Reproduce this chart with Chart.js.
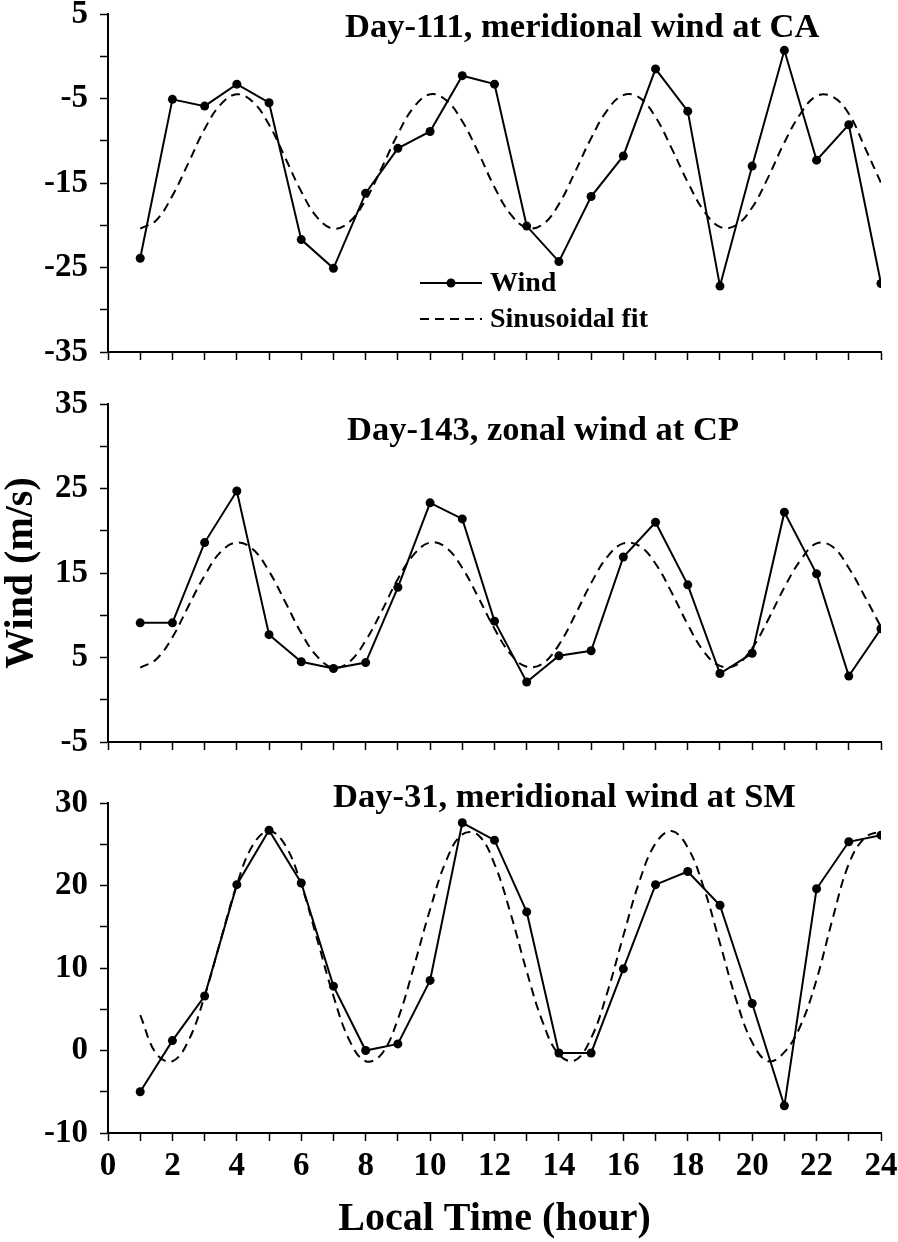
<!DOCTYPE html>
<html>
<head>
<meta charset="utf-8">
<script src="https://cdn.jsdelivr.net/npm/chart.js@4.4.1/dist/chart.umd.min.js"></script>
<style>
body { margin: 0; background: #fff; }
#wrap { position: relative; width: 898px; height: 1242px; overflow: hidden; background: #fff; }
.pane { position: absolute; left: 0; width: 898px; }
</style>
</head>
<body>
<div id="wrap">
  <div class="pane" style="top:-10px;height:400px"><canvas id="c1"></canvas></div>
  <div class="pane" style="top:380px;height:400px"><canvas id="c2"></canvas></div>
  <div class="pane" style="top:779px;height:463px"><canvas id="c3"></canvas></div>
</div>
<script>
// hours of the observations
const hours = [1,2,3,4,5,6,7,8,9,10,11,12,13,14,15,16,17,18,19,20,21,22,23,24]
// sampling of the fitted curve (half hour)
const fitHours = [1,1.5,2,2.5,3,3.5,4,4.5,5,5.5,6,6.5,7,7.5,8,8.5,9,9.5,10,10.5,11,11.5,12,12.5,
  13,13.5,14,14.5,15,15.5,16,16.5,17,17.5,18,18.5,19,19.5,20,20.5,21,21.5,22,22.5,23,23.5,24]

// Day-111, meridional wind at CA
const wind111 = [-23.9,-5.1,-5.9,-3.3,-5.5,-21.7,-25.1,-16.2,-10.9,-8.9,-2.3,-3.3,-20.1,-24.3,-16.6,-11.8,-1.5,-6.5,-27.2,-13.0,0.7,-12.3,-8.1,-26.9]
const fit111 = [-20.4,-19.4,-16.5,-12.6,-8.6,-5.7,-4.5,-5.4,-8.1,-12.0,-16.0,-19.1,-20.4,-19.6,-17.0,-13.2,-9.2,-6.0,-4.5,-5.2,-7.7,-11.4,-15.5,-18.7,
  -20.3,-19.9,-17.5,-13.7,-9.7,-6.4,-4.6,-4.9,-7.2,-10.9,-14.9,-18.3,-20.2,-20.0,-17.9,-14.3,-10.2,-6.8,-4.7,-4.8,-6.8,-10.8,-15.0]

// Day-143, zonal wind at CP
const wind143 = [9.1,9.1,18.6,24.7,7.7,4.5,3.7,4.4,13.3,23.3,21.4,9.3,2.1,5.2,5.8,16.9,21.0,13.6,3.1,5.5,22.2,14.9,2.8,8.4]
const fit143 = [3.8,4.8,7.4,11.1,14.7,17.5,18.6,17.8,15.2,11.6,7.9,5.1,3.8,4.5,7.0,10.5,14.3,17.2,18.6,18.0,15.6,12.1,8.4,5.4,
  3.9,4.3,6.5,10.0,13.8,16.9,18.5,18.2,16.1,12.7,8.9,5.7,4.0,4.1,6.1,9.5,13.3,16.5,18.5,18.1,15.6,12.2,8.6]

// Day-31, meridional wind at SM
const wind31 = [-5.0,1.2,6.6,20.1,26.7,20.3,7.8,0.0,0.8,8.5,27.6,25.5,16.8,-0.3,-0.3,9.9,20.1,21.7,17.6,5.7,-6.7,19.6,25.3,26.1]
const fit31 = [4.3,-0.4,-1.3,1.2,6.6,13.4,20.1,24.9,26.6,24.9,20.1,13.4,6.6,1.2,-1.3,-0.4,3.8,10.2,17.1,23.0,26.2,26.1,22.6,16.6,
  9.6,3.4,-0.5,-1.2,1.5,7.0,13.9,20.5,25.1,26.6,24.6,19.7,13.0,6.2,1.0,-1.3,-0.2,3.0,8.6,16.0,22.6,25.8,26.6]

const serif = '"Liberation Serif", "Times New Roman", serif'
Chart.defaults.font.family = serif
Chart.defaults.font.weight = 'bold'
Chart.defaults.color = '#000'
Chart.defaults.animation = false

// panel title + in-plot legend
const decor = {
  id: 'decor',
  afterDraw(chart, args, o) {
    const ctx = chart.ctx
    ctx.save()
    ctx.fillStyle = '#000'
    ctx.strokeStyle = '#000'
    ctx.font = 'bold 34.5px ' + serif
    ctx.textAlign = 'left'
    ctx.textBaseline = 'alphabetic'
    ctx.fillText(o.title, o.tx, o.ty)
    if (o.legend) {
      chart.data.datasets.forEach((ds, i) => {
        const y = o.ly + i * 36
        ctx.lineWidth = 2
        ctx.setLineDash(ds.borderDash || [])
        ctx.beginPath()
        ctx.moveTo(o.lx, y)
        ctx.lineTo(o.lx + 62, y)
        ctx.stroke()
        ctx.setLineDash([])
        if (ds.pointRadius > 0) {
          ctx.beginPath()
          ctx.arc(o.lx + 31, y, ds.pointRadius, 0, Math.PI * 2)
          ctx.fill()
        }
        ctx.font = 'bold 28px ' + serif
        ctx.textBaseline = 'middle'
        ctx.fillText(ds.label, o.lx + 70, y + 1)
      })
    }
    ctx.restore()
  }
}

function pts(xs, ys) {
  return xs.map((x, i) => ({ x: x, y: ys[i] }))
}

function makePanel(id, wind, fit, ymin, ymax, labelEvery, opts) {
  return new Chart(document.getElementById(id), {
    type: 'line',
    data: {
      datasets: [{
        label: 'Wind',
        data: pts(hours, wind),
        borderColor: '#000',
        backgroundColor: '#000',
        borderWidth: 2,
        pointRadius: 4.5,
        pointBorderWidth: 0,
        tension: 0
      }, {
        label: 'Sinusoidal fit',
        data: pts(fitHours, fit),
        borderColor: '#000',
        borderWidth: 2,
        borderDash: [9, 6],
        pointRadius: 0,
        tension: 0.4
      }]
    },
    options: {
      responsive: true,
      maintainAspectRatio: false,
      layout: { padding: { top: 24, right: 17, left: 0, bottom: 0 } },
      plugins: {
        legend: { display: false },
        tooltip: { enabled: false },
        decor: opts
      },
      scales: {
        x: {
          type: 'linear',
          min: 0,
          max: 24,
          afterFit: s => {
            s.height = opts.xh
            s.paddingLeft = 0
            s.paddingRight = 0
          },
          ticks: {
            stepSize: 1,
            autoSkip: false,
            maxRotation: 0,
            padding: 9,
            font: { size: 33, lineHeight: 1 },
            callback: v => (opts.xlabels && v % 2 === 0) ? v : ''
          },
          grid: { drawOnChartArea: false, tickLength: 8, tickColor: '#000', tickWidth: 1.5 },
          border: { color: '#000', width: 2 },
          title: {
            display: !!opts.xtitle,
            text: opts.xtitle || '',
            font: { size: 40, lineHeight: 1 },
            padding: { top: 0, bottom: 2 }
          }
        },
        y: {
          min: ymin,
          max: ymax,
          afterFit: s => {
            s.width = 108
            s.paddingTop = 0
            s.paddingBottom = 0
          },
          ticks: {
            stepSize: 5,
            autoSkip: false,
            padding: 12,
            font: { size: 33, lineHeight: 1 },
            callback: v => Math.abs((v - labelEvery) % 10) < 1e-9 ? v : ''
          },
          grid: { drawOnChartArea: false, tickLength: 8, tickColor: '#000', tickWidth: 1.5 },
          border: { color: '#000', width: 2 },
          title: {
            display: !!opts.ytitle,
            text: opts.ytitle || '',
            font: { size: 40, lineHeight: 1 },
            padding: { top: 2, bottom: 0 }
          }
        }
      }
    },
    plugins: [decor]
  })
}

makePanel('c1', wind111, fit111, -35, 5, 5, {
  title: 'Day-111, meridional wind at CA', tx: 345, ty: 47,
  legend: true, lx: 420, ly: 293, xh: 38
})
makePanel('c2', wind143, fit143, -5, 35, 5, {
  title: 'Day-143, zonal wind at CP', tx: 347, ty: 60,
  xh: 38, ytitle: 'Wind (m/s)'
})
makePanel('c3', wind31, fit31, -10, 30, 0, {
  title: 'Day-31, meridional wind at SM', tx: 333, ty: 28,
  xh: 109, xlabels: true, xtitle: 'Local Time (hour)'
})
</script>
</body>
</html>
